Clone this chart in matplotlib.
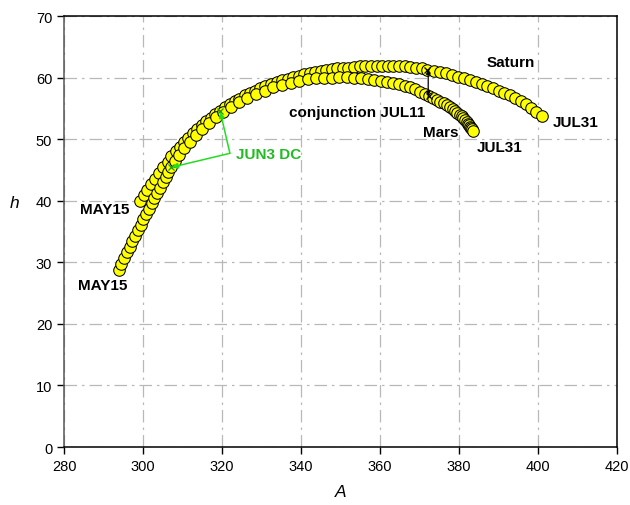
import matplotlib
matplotlib.use("Agg")
import matplotlib.pyplot as plt

plt.rcParams['font.family'] = ['Liberation Sans', 'DejaVu Sans']

# Daily positions (azimuth A, altitude h), May 15 - Jul 31
mars_A = [293.8, 294.5, 295.2, 295.9, 296.6, 297.3, 298.0, 298.7, 299.4, 300.1,
          300.8, 301.5, 302.2, 302.9, 303.6, 304.3, 305.0, 305.7, 306.4, 307.0,
          308.1, 309.2, 310.5, 311.9, 313.4, 314.9, 316.6, 318.4, 320.2, 322.2,
          324.3, 326.4, 328.6, 330.8, 333.0, 335.2, 337.4, 339.6, 341.7, 343.8,
          345.8, 347.8, 349.7, 351.6, 353.4, 355.2, 356.9, 358.6, 360.2, 361.8,
          363.3, 364.7, 366.2, 367.5, 368.9, 370.1, 371.3, 372.5,
          373.5, 374.4, 375.3, 376.2, 377.0, 377.7, 378.4, 379.0, 379.6, 380.2,
          380.7, 381.1, 381.5, 381.9, 382.2, 382.5, 382.8, 383.1, 383.4, 383.6]
mars_h = [28.8, 29.7, 30.7, 31.6, 32.5, 33.4, 34.3, 35.2, 36.1, 37.0,
          37.9, 38.7, 39.6, 40.5, 41.3, 42.1, 43.0, 43.8, 44.6, 45.4,
          46.5, 47.5, 48.5, 49.6, 50.7, 51.6, 52.7, 53.6, 54.4, 55.2,
          56.0, 56.7, 57.4, 57.9, 58.4, 58.8, 59.2, 59.5, 59.7, 59.9,
          60.0, 60.0, 60.1, 60.1, 60.0, 59.9, 59.8, 59.6, 59.5, 59.3,
          59.1, 58.9, 58.6, 58.4, 58.1, 57.7, 57.4, 57.0,
          56.7, 56.4, 56.1, 55.8, 55.5, 55.2, 54.9, 54.6, 54.3, 54.0,
          53.7, 53.4, 53.1, 52.8, 52.5, 52.3, 52.0, 51.8, 51.6, 51.4]

saturn_A = [299.2, 300.2, 301.1, 302.1, 303.1, 304.1, 305.1, 306.2, 307.2, 308.3,
            309.3, 310.4, 311.5, 312.6, 313.7, 314.9, 316.0, 317.2, 318.3, 319.5,
            320.7, 321.9, 323.2, 324.4, 325.7, 327.0, 328.3, 329.7, 331.0, 332.4,
            333.8, 335.2, 336.6, 338.0, 339.4, 340.8, 342.2, 343.6, 345.0, 346.4,
            347.8, 349.2, 350.6, 352.0, 353.4, 354.9, 356.3, 357.7, 359.2, 360.6,
            362.0, 363.4, 364.9, 366.3, 367.7, 369.2, 370.6, 372.0,
            373.6, 375.1, 376.6, 378.2, 379.7, 381.2, 382.7, 384.2, 385.7, 387.1,
            388.6, 390.0, 391.4, 392.8, 394.2, 395.6, 396.9, 398.3, 399.6, 400.9]
saturn_h = [40.0, 41.0, 41.8, 42.7, 43.6, 44.5, 45.4, 46.3, 47.2, 48.0,
            48.7, 49.5, 50.2, 51.0, 51.6, 52.3, 52.9, 53.5, 54.1, 54.6,
            55.2, 55.7, 56.2, 56.6, 57.1, 57.5, 57.9, 58.3, 58.6, 59.0,
            59.3, 59.6, 59.8, 60.1, 60.3, 60.5, 60.7, 60.9, 61.1, 61.3,
            61.4, 61.5, 61.6, 61.6, 61.7, 61.8, 61.9, 61.9, 61.9, 61.9,
            61.9, 61.9, 61.8, 61.8, 61.7, 61.6, 61.5, 61.3,
            61.1, 60.9, 60.7, 60.4, 60.1, 59.9, 59.6, 59.3, 59.0, 58.7,
            58.3, 57.9, 57.5, 57.2, 56.7, 56.2, 55.7, 55.1, 54.4, 53.7]

jun3 = 19    # index of Jun 3
jul11 = 57   # index of Jul 11 (conjunction)

x_ticks = [280, 300, 320, 340, 360, 380, 400, 420]
y_ticks = [0, 10, 20, 30, 40, 50, 60, 70]

fig = plt.figure(figsize=(6.3, 5.06), dpi=100)
ax = fig.add_axes([0.1016, 0.1146, 0.8778, 0.8518])

ax.set_xlim(280, 420)
ax.set_ylim(0, 70)
ax.set_xticks(x_ticks)
ax.set_yticks(y_ticks)
ax.tick_params(direction='out', length=5, width=1, labelsize=10.5, colors='black')
for s in ax.spines.values():
    s.set_linewidth(1.1)
    s.set_color('black')
ax.spines['left'].set_color('#555555')

ax.grid(True, color='#b8b8b8', linewidth=0.9, linestyle=(0, (10, 4, 2, 4)))
ax.set_axisbelow(True)

ms = 8.3
ax.plot(saturn_A, saturn_h, linestyle='none', marker='o', markersize=ms,
        markerfacecolor='#ffff00', markeredgecolor='black', markeredgewidth=0.75, zorder=3)
ax.plot(mars_A, mars_h, linestyle='none', marker='o', markersize=ms,
        markerfacecolor='#ffff00', markeredgecolor='black', markeredgewidth=0.75, zorder=4)

# conjunction marks
ax.plot([saturn_A[jul11], mars_A[jul11]], [saturn_h[jul11], mars_h[jul11]],
        linestyle='none', marker='x', markersize=4, color='black',
        markeredgewidth=0.9, zorder=6)
ax.annotate('', xy=(saturn_A[jul11] + 0.2, saturn_h[jul11]),
            xytext=(saturn_A[jul11] + 0.2, mars_h[jul11]),
            arrowprops=dict(arrowstyle='<|-|>', color='black', lw=0.9,
                            mutation_scale=6, shrinkA=0, shrinkB=0), zorder=6)

# Jun 3 marks
green = '#22dd22'
ax.plot([saturn_A[jun3], mars_A[jun3]], [saturn_h[jun3], mars_h[jun3]],
        linestyle='none', marker='x', markersize=4, color='#119911',
        markeredgewidth=0.9, zorder=6)
corner = (322.0, 47.7)
for A, h in [(saturn_A[jun3], saturn_h[jun3]), (mars_A[jun3], mars_h[jun3])]:
    ax.annotate('', xy=(A, h), xytext=corner,
                arrowprops=dict(arrowstyle='-|>', color=green, lw=1.1,
                                mutation_scale=8, shrinkA=0, shrinkB=1), zorder=6)
ax.text(323.6, 47.6, 'JUN3 DC', color='#22bb22', fontsize=11, fontweight='bold',
        ha='left', va='center')

lab = dict(fontsize=11, fontweight='bold', color='black', va='center')
ax.text(393.0, 62.6, 'Saturn', ha='center', **lab)
ax.text(403.6, 52.8, 'JUL31', ha='left', **lab)
ax.text(370.9, 51.1, 'Mars', ha='left', **lab)
ax.text(384.4, 48.7, 'JUL31', ha='left', **lab)
ax.text(371.4, 54.4, 'conjunction JUL11', ha='right', **lab)
ax.text(284.0, 38.6, 'MAY15', ha='left', **lab)
ax.text(283.5, 26.3, 'MAY15', ha='left', **lab)

ax.set_xlabel('A', fontsize=12.5, fontstyle='italic', labelpad=8)
ax.set_ylabel('h', fontsize=12.5, fontstyle='italic', rotation=0, va='center', ha='center')
ax.yaxis.set_label_coords(-0.09, 0.568)

fig.savefig('out.png', dpi=100)
